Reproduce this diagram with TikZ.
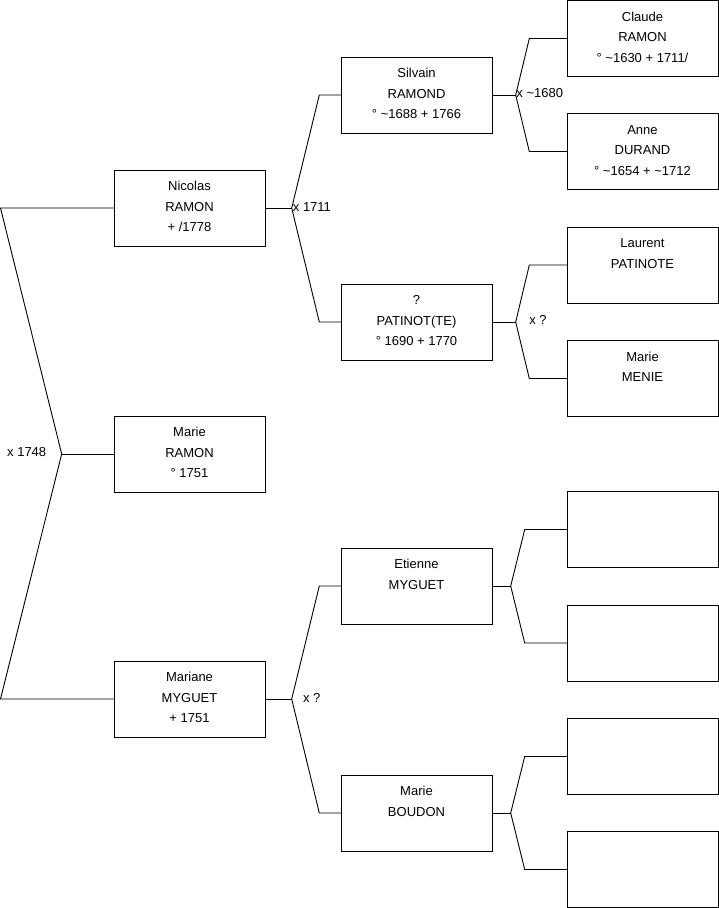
\documentclass[tikz,border=0pt]{standalone}
\usepackage{fontspec}
\setmainfont{Liberation Sans}
\usetikzlibrary{calc}
\newcommand{\famtxt}[1]{\parbox[c][76pt][t]{151pt}{\centering\fontsize{13}{20.5}\selectfont\rule{0pt}{20.7pt}#1}}
\begin{document}
\begin{tikzpicture}[x=1pt,y=-1pt,
  person/.style={draw=black,line width=0.9pt,inner sep=0pt,outer sep=0pt,anchor=north west,
    minimum width=151pt,minimum height=76pt},
  link/.style={draw=black,line width=0.9pt},
  marr/.style={font=\fontsize{13}{15}\selectfont,inner sep=0pt}]
\useasboundingbox (0,0) rectangle (719,908);
% generation 1
\node[person] (N)  at (114,170)  {\famtxt{Nicolas\\RAMON\\+ /1778}};
\node[person] (MR) at (114,416)  {\famtxt{Marie\\RAMON\\° 1751}};
\node[person] (MM) at (114,661)  {\famtxt{Mariane\\MYGUET\\+ 1751}};
% generation 2
\node[person] (S) at (341,57)  {\famtxt{Silvain\\RAMOND\\° \textasciitilde1688 + 1766}};
\node[person] (P) at (341,284) {\famtxt{?\\PATINOT(TE)\\° 1690 + 1770}};
\node[person] (E) at (341,548) {\famtxt{Etienne\\MYGUET}};
\node[person] (B) at (341,775) {\famtxt{Marie\\BOUDON}};
% generation 3
\node[person] (C)  at (567,0.5)   {\famtxt{Claude\\RAMON\\° \textasciitilde1630 + 1711/}};
\node[person] (A)  at (567,113.5) {\famtxt{Anne\\DURAND\\° \textasciitilde1654 + \textasciitilde1712}};
\node[person] (L)  at (567,227)   {\famtxt{Laurent\\PATINOTE}};
\node[person] (ME) at (567,340.5) {\famtxt{Marie\\MENIE}};
\node[person] (E1) at (567,491.5) {\famtxt{}};
\node[person] (E2) at (567,605)   {\famtxt{}};
\node[person] (E3) at (567,718.5) {\famtxt{}};
\node[person] (E4) at (567,831.5) {\famtxt{}};
% junctions
\coordinate (jR) at ([xshift=-52.3pt]MR.west);
\coordinate (jN) at ([xshift=26.7pt]N.east);
\coordinate (jM) at ([xshift=26.7pt]MM.east);
\coordinate (jS) at ([xshift=23.7pt]S.east);
\coordinate (jP) at ([xshift=23.7pt]P.east);
\coordinate (jE) at ([xshift=18.7pt]E.east);
\coordinate (jB) at ([xshift=18.7pt]B.east);
% root bracket
\draw[link] (N.west) -- ([xshift=-113.5pt]N.west) -- (jR) -- ([xshift=-113.5pt]MM.west) -- (MM.west);
\draw[link] (jR) -- (MR.west);
% generation 1 -> 2
\draw[link] (N.east) -- (jN);
\draw[link] (S.west) -- ([xshift=-21.7pt]S.west) -- (jN) -- ([xshift=-21.7pt]P.west) -- (P.west);
\draw[link] (MM.east) -- (jM);
\draw[link] (E.west) -- ([xshift=-21.7pt]E.west) -- (jM) -- ([xshift=-21.7pt]B.west) -- (B.west);
% generation 2 -> 3
\draw[link] (S.east) -- (jS);
\draw[link] (C.west) -- ([xshift=-37.7pt]C.west) -- (jS) -- ([xshift=-37.7pt]A.west) -- (A.west);
\draw[link] (P.east) -- (jP);
\draw[link] (L.west) -- ([xshift=-37.7pt]L.west) -- (jP) -- ([xshift=-37.7pt]ME.west) -- (ME.west);
\draw[link] (E.east) -- (jE);
\draw[link] (E1.west) -- ([xshift=-42.3pt]E1.west) -- (jE) -- ([xshift=-42.3pt]E2.west) -- (E2.west);
\draw[link] (B.east) -- (jB);
\draw[link] (E3.west) -- ([xshift=-42.3pt]E3.west) -- (jB) -- ([xshift=-42.3pt]E4.west) -- (E4.west);
% marriage labels
\node[marr] (m1) at (26.7,452) {x 1748};
\node[marr,anchor=west] (m2) at ([xshift=1pt,yshift=1.3pt]jN) {x 1711};
\node[marr,anchor=west] (m3) at ([xshift=0.5pt,yshift=1.8pt]jS) {x \textasciitilde1680};
\node[marr] (m4) at (538,320) {x ?};
\node[marr] (m5) at (311.7,698) {x ?};
\end{tikzpicture}
\end{document}
